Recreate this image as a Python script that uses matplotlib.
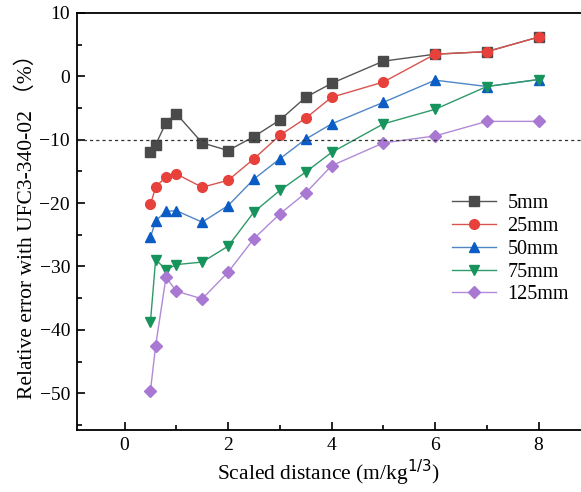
import matplotlib
matplotlib.use('Agg')
import matplotlib.pyplot as plt
from matplotlib.ticker import MultipleLocator

plt.rcParams['font.family'] = ['Liberation Serif', 'Noto Sans CJK SC']

scaled_distance = [0.5, 0.6, 0.8, 1.0, 1.5, 2.0, 2.5, 3.0, 3.5, 4.0, 5.0, 6.0, 7.0, 8.0]

err_5mm = [-11.9, -10.8, -7.3, -5.9, -10.5, -11.7, -9.5, -6.9, -3.3, -1.1, 2.4, 3.5, 3.9, 6.2]
err_25mm = [-20.2, -17.5, -15.8, -15.4, -17.5, -16.4, -13.0, -9.3, -6.6, -3.3, -0.9, 3.5, 3.9, 6.2]
err_50mm = [-25.4, -22.8, -21.3, -21.2, -23.0, -20.4, -16.2, -13.0, -9.9, -7.5, -4.1, -0.6, -1.6, -0.5]
err_75mm = [-38.7, -28.9, -30.5, -29.7, -29.3, -26.8, -21.4, -18.0, -15.1, -12.0, -7.5, -5.2, -1.6, -0.5]
err_125mm = [-49.6, -42.5, -31.7, -33.9, -35.1, -30.9, -25.6, -21.7, -18.4, -14.1, -10.5, -9.4, -7.1, -7.1]

series = [
    ('5mm', err_5mm, 's', '#4a4a4a', '#555555'),
    ('25mm', err_25mm, 'o', '#e8403a', '#d9534f'),
    ('50mm', err_50mm, '^', '#0b5cc5', '#4f86c6'),
    ('75mm', err_75mm, 'v', '#17935c', '#2e9a68'),
    ('125mm', err_125mm, 'D', '#a878d2', '#b08ad6'),
]

fig = plt.figure(figsize=(5.81, 4.92), dpi=100)
ax = fig.add_axes([0.1325, 0.126, 0.8675, 0.8476])

for label, values, marker, face, line in series:
    ax.plot(scaled_distance, values, color=line, linewidth=1.0,
            marker=marker, markersize=7 if marker != 'D' else 6,
            markerfacecolor=face, markeredgecolor=face, label=label)

ax.axhline(-10, color='#333333', linestyle=(0, (2.5, 2.5)), linewidth=0.9)

ax.set_xlim(-0.92, 8.82)
ax.set_ylim(-55.8, 10)
ax.xaxis.set_major_locator(MultipleLocator(2))
ax.xaxis.set_minor_locator(MultipleLocator(1))
ax.yaxis.set_major_locator(MultipleLocator(10))
ax.yaxis.set_minor_locator(MultipleLocator(5))
ax.tick_params(which='both', direction='in', labelsize=14, width=1.2)
ax.tick_params(which='major', length=6)
ax.tick_params(which='minor', length=3.5)
ax.tick_params(axis='x', pad=5)
ax.tick_params(axis='y', pad=5)

for side in ['left', 'bottom', 'top']:
    ax.spines[side].set_linewidth(1.3)
ax.spines['right'].set_visible(False)

ax.set_xlabel('Scaled distance (m/kg$^{1/3}$)', fontsize=15.5, labelpad=3)
ax.set_ylabel('Relative error with UFC3-340-02 （%）', fontsize=15.5, labelpad=2)

ax.legend(loc='upper left', bbox_to_anchor=(0.778, 0.605), bbox_transform=fig.transFigure,
          frameon=False, fontsize=14.5, handlelength=2.2, labelspacing=0.18,
          handletextpad=0.55, borderpad=0, borderaxespad=0)

plt.savefig('out.png', dpi=100)
